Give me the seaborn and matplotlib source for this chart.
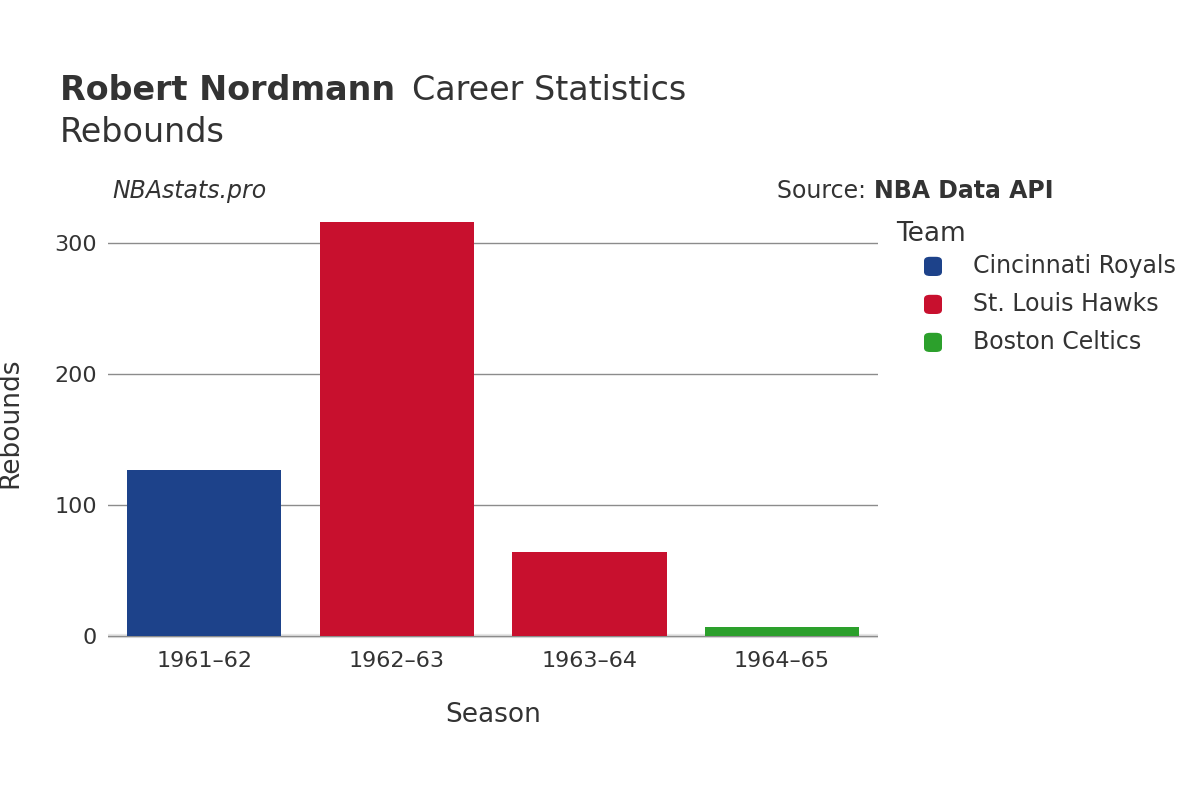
import matplotlib
matplotlib.use("Agg")
import matplotlib.pyplot as plt
import seaborn as sns
import pandas as pd

seasons = ["1961–62", "1962–63", "1963–64", "1964–65"]
teams = ["Cincinnati Royals", "St. Louis Hawks", "St. Louis Hawks", "Boston Celtics"]
rebounds = [127, 316, 64, 7]
team_order = ["Cincinnati Royals", "St. Louis Hawks", "Boston Celtics"]
team_colors = ["#1d428a", "#c8102e", "#2ca02c"]

df = pd.DataFrame({"Season": seasons, "Team": teams, "Rebounds": rebounds})

fig = plt.figure(figsize=(12, 8), dpi=100)
ax = fig.add_axes([0.09, 0.2, 0.642, 0.544])
sns.barplot(data=df, x="Season", y="Rebounds", hue="Team", hue_order=team_order,
            palette=team_colors, dodge=False, width=0.8, ax=ax, legend=False, saturation=1)
ax.set_ylim(-3, 329.5)
ax.set_xlim(-0.5, 3.5)
ax.set_yticks([0, 100, 200, 300])
ax.grid(axis="y", color="#8c8c8c", linewidth=1)
ax.set_axisbelow(True)
ax.axhline(0, color="#e6e6e6", linewidth=3, zorder=0.5)
for s in ax.spines.values():
    s.set_visible(False)
ax.tick_params(length=0, labelsize=16, colors="#333333", pad=8)
ax.set_xlabel("Season", fontsize=19, color="#333333", labelpad=22)
ax.set_ylabel("Rebounds", fontsize=19, color="#333333", labelpad=22)

fig.text(0.05, 0.875, "Robert Nordmann", fontsize=24, fontweight="bold", color="#333333", va="baseline")
fig.text(0.343, 0.875, "Career Statistics", fontsize=24, color="#333333", va="baseline")
fig.text(0.05, 0.823, "Rebounds", fontsize=24, color="#333333", va="baseline")
fig.text(0.094, 0.752, "NBAstats.pro", fontsize=17, style="italic", color="#333333", va="baseline")
fig.text(0.728, 0.752, "Source: ", fontsize=17, color="#333333", va="baseline", ha="right")
fig.text(0.728, 0.752, "NBA Data API", fontsize=17, fontweight="bold", color="#333333", va="baseline", ha="left")

fig.text(0.747, 0.707, "Team", fontsize=19, color="#333333", va="center")
for i, (t, c) in enumerate(zip(team_order, team_colors)):
    y = 0.667 - i * 0.0475
    fig.patches.append(matplotlib.patches.FancyBboxPatch((0.770, y - 0.012), 0.015, 0.024,
                       boxstyle="round,pad=0,rounding_size=0.005", transform=fig.transFigure,
                       facecolor=c, edgecolor="none"))
    fig.text(0.811, y, t, fontsize=17, color="#333333", va="center")

fig.savefig("out.png", dpi=100)
